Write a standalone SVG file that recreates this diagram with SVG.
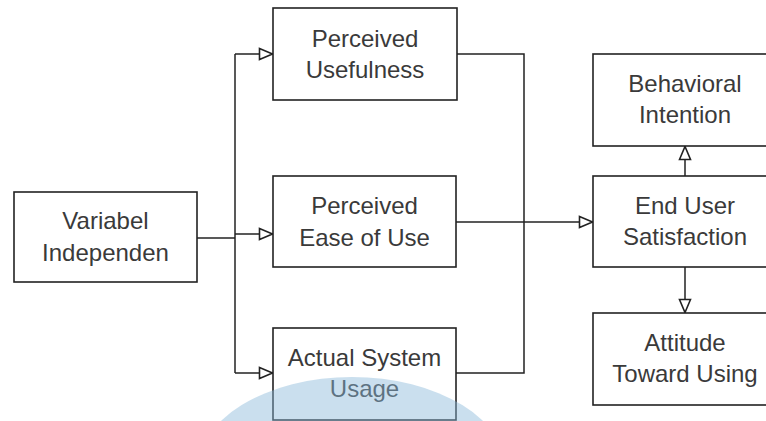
<svg xmlns="http://www.w3.org/2000/svg" width="766" height="421" viewBox="0 0 766 421">
<defs>
<style>
.box{fill:#ffffff;stroke:#222222;stroke-width:1.6}
.lbl{font-family:"Liberation Sans",Arial,sans-serif;font-size:24px;fill:#3a3a3a;text-anchor:middle}
.conn{fill:none;stroke:#222222;stroke-width:1.5}
</style>
<marker id="tri" viewBox="0 0 16 14" refX="15" refY="7" markerWidth="16" markerHeight="14" markerUnits="userSpaceOnUse" orient="auto">
<path d="M1.5,1.5 L14.5,7 L1.5,12.5 Z" fill="#ffffff" stroke="#222222" stroke-width="1.6"/>
</marker>
</defs>
<rect width="766" height="421" fill="#ffffff"/>
<g id="connectors">
<path class="conn" d="M197,238 H235"/>
<path class="conn" d="M235,54 V373"/>
<path class="conn" d="M235,54 H273" marker-end="url(#tri)"/>
<path class="conn" d="M235,234 H273" marker-end="url(#tri)"/>
<path class="conn" d="M235,373 H273" marker-end="url(#tri)"/>
<path class="conn" d="M457,54 H524 V373 H456"/>
<path class="conn" d="M456,222 H593" marker-end="url(#tri)"/>
<path class="conn" d="M685,176 V146" marker-end="url(#tri)"/>
<path class="conn" d="M685,267 V313" marker-end="url(#tri)"/>
</g>
<g id="variabel-independen">
<rect class="box" x="14" y="192" width="183" height="90"/>
<text class="lbl" x="105.5" y="229">Variabel</text>
<text class="lbl" x="105.5" y="261">Independen</text>
</g>
<g id="perceived-usefulness">
<rect class="box" x="273" y="8" width="184" height="92"/>
<text class="lbl" x="365" y="47">Perceived</text>
<text class="lbl" x="365" y="78">Usefulness</text>
</g>
<g id="perceived-ease">
<rect class="box" x="273" y="176" width="183" height="91"/>
<text class="lbl" x="364.5" y="214">Perceived</text>
<text class="lbl" x="364.5" y="246">Ease of Use</text>
</g>
<g id="actual-usage">
<rect class="box" x="273" y="328" width="183" height="92"/>
<text class="lbl" x="364.5" y="366">Actual System</text>
<text class="lbl" x="364.5" y="397">Usage</text>
</g>
<g id="behavioral-intention">
<rect class="box" x="593" y="54" width="184" height="92"/>
<text class="lbl" x="685" y="92">Behavioral</text>
<text class="lbl" x="685" y="123">Intention</text>
</g>
<g id="end-user-satisfaction">
<rect class="box" x="593" y="176" width="184" height="91"/>
<text class="lbl" x="685" y="214">End User</text>
<text class="lbl" x="685" y="245">Satisfaction</text>
</g>
<g id="attitude">
<rect class="box" x="593" y="313" width="184" height="92"/>
<text class="lbl" x="685" y="351">Attitude</text>
<text class="lbl" x="685" y="382">Toward Using</text>
</g>
<ellipse cx="352" cy="473" rx="156" ry="96" fill="#8ab8da" fill-opacity="0.45"/>
</svg>
